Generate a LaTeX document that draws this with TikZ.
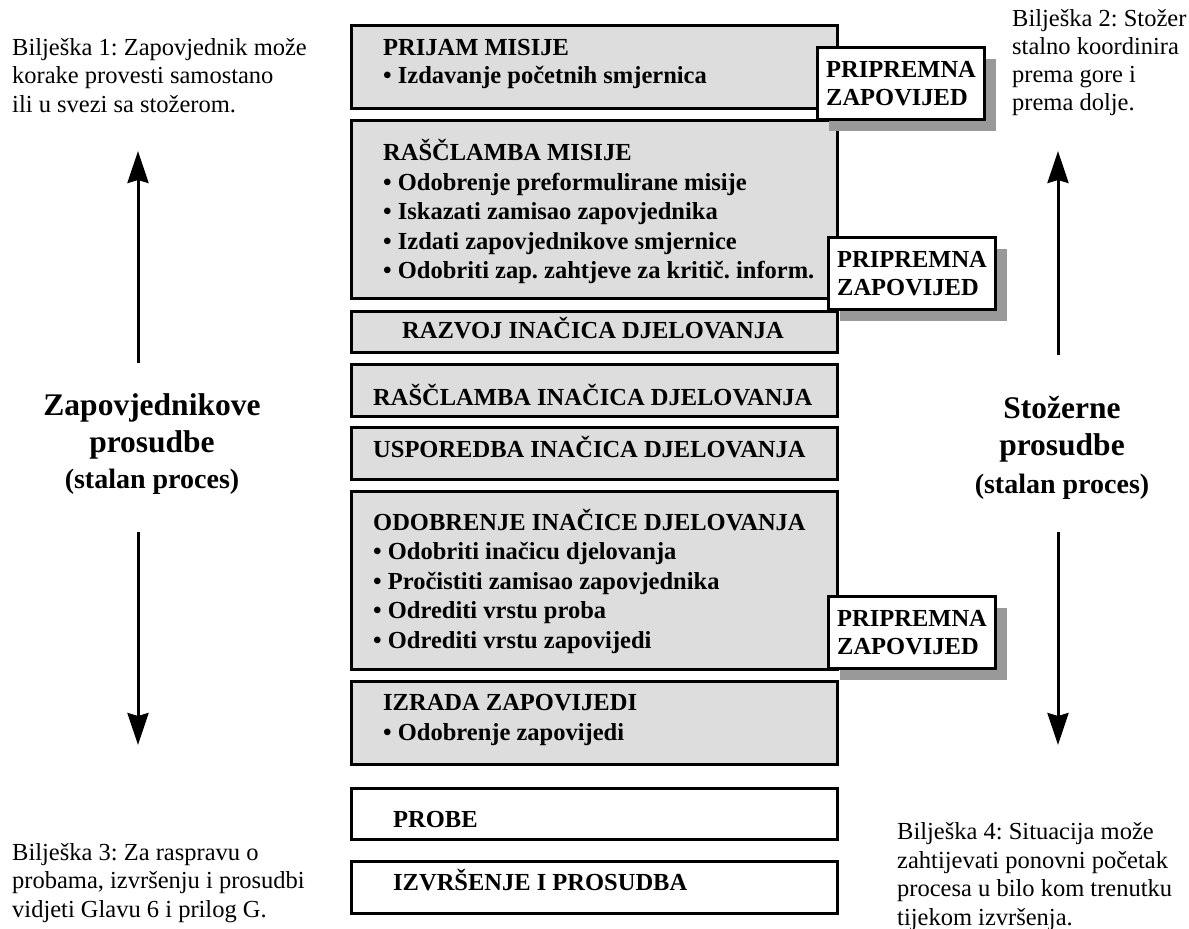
\documentclass[tikz,border=0pt]{standalone}
\usepackage{fontspec}
\setmainfont{Liberation Serif}
\frenchspacing
\usetikzlibrary{arrows.meta,shadows}
\definecolor{boxgray}{HTML}{DDDDDD}
\definecolor{shadowgray}{HTML}{999999}
\tikzset{
  stepbox/.style={draw=black, line width=2.5pt, fill=boxgray, anchor=north west, inner sep=0pt, minimum width=486pt},
  whitebox/.style={stepbox, fill=white},
  boxtxt/.style={anchor=base west, inner sep=0pt, align=left, font=\bfseries\fontsize{24.5}{29.5}\selectfont},
  ctrtxt/.style={boxtxt, anchor=base},
  notetxt/.style={anchor=base west, inner sep=0pt, align=left, font=\fontsize{24.5}{28.5}\selectfont},
  prepbox/.style={draw=black, line width=2.5pt, fill=white, anchor=north west, inner sep=0pt,
    minimum width=167pt, minimum height=72pt,
    drop shadow={shadow xshift=12pt, shadow yshift=-12pt, fill=shadowgray, opacity=1}},
  preptxt/.style={anchor=base west, inner sep=0pt, align=left, font=\bfseries\fontsize{24.5}{28}\selectfont},
  bigtitle/.style={anchor=base, inner sep=0pt, align=center, font=\bfseries\fontsize{31.5}{37}\selectfont},
  bigsub/.style={anchor=base, inner sep=0pt, font=\bfseries\fontsize{28}{32}\selectfont},
  cycarrow/.style={line width=3pt, -{Stealth[length=32pt, width=21pt, inset=3pt]}}
}
\begin{document}
\begin{tikzpicture}[x=1pt, y=-1pt]
\useasboundingbox (0,0) rectangle (1189,929);

% main step boxes
\node[stepbox, minimum height=83pt]  (b1) at (350,24)  {};
\node[stepbox, minimum height=178pt] (b2) at (350,119) {};
\node[stepbox, minimum height=41pt]  (b3) at (350,310) {};
\node[stepbox, minimum height=52pt]  (b4) at (350,363) {};
\node[stepbox, minimum height=52pt]  (b5) at (350,426) {};
\node[stepbox, minimum height=178pt] (b6) at (350,490) {};
\node[stepbox, minimum height=83pt]  (b7) at (350,680) {};
\node[whitebox, minimum height=51pt] (b8) at (350,787) {};
\node[whitebox, minimum height=52pt] (b9) at (350,860) {};

% (anchors are on the baseline of the last line)
\node[boxtxt, font=\bfseries\fontsize{24.5}{28.5}\selectfont] (t1) at (383,83.5) {PRIJAM MISIJE\\• Izdavanje početnih smjernica};
\node[boxtxt] (t2) at (383,278.5) {RAŠČLAMBA MISIJE\\• Odobrenje preformulirane misije\\• Iskazati zamisao zapovjednika\\• Izdati zapovjednikove smjernice\\• Odobriti zap. zahtjeve za kritič. inform.};
\node[ctrtxt] (t3) at (593,338) {RAZVOJ INAČICA DJELOVANJA};
\node[boxtxt] (t4) at (373,405) {RAŠČLAMBA INAČICA DJELOVANJA};
\node[boxtxt] (t5) at (373,457) {USPOREDBA INAČICA DJELOVANJA};
\node[boxtxt] (t6) at (373,648) {ODOBRENJE INAČICE DJELOVANJA\\• Odobriti inačicu djelovanja\\• Pročistiti zamisao zapovjednika\\• Odrediti vrstu proba\\• Odrediti vrstu zapovijedi};
\node[boxtxt] (t7) at (383,740) {IZRADA ZAPOVIJEDI\\• Odobrenje zapovijedi};
\node[boxtxt] (t8) at (393,827) {PROBE};
\node[boxtxt] (t9) at (393,890) {IZVRŠENJE I PROSUDBA};

% warning order boxes
\node[prepbox] (pa) at (816,46) {};
\node[preptxt] (pat) at (826,105) {PRIPREMNA\\ZAPOVIJED};
\node[prepbox] (pb) at (827,236) {};
\node[preptxt] (pbt) at (837,295) {PRIPREMNA\\ZAPOVIJED};
\node[prepbox] (pc) at (827,595) {};
\node[preptxt] (pct) at (837,654) {PRIPREMNA\\ZAPOVIJED};

% side labels
\node[bigtitle] (lt) at (152,452) {Zapovjednikove\\prosudbe};
\node[bigsub] (ls) at (152,488) {(stalan proces)};
\node[bigtitle] (rt) at (1062,455) {Stožerne\\prosudbe};
\node[bigsub] (rs) at (1062,493) {(stalan proces)};

% arrows
\coordinate (la1) at (138,363);
\coordinate (la2) at (138,151);
\coordinate (la3) at (138,532);
\coordinate (la4) at (138,745);
\coordinate (ra1) at (1058,355);
\coordinate (ra2) at (1058,151);
\coordinate (ra3) at (1058,532);
\coordinate (ra4) at (1058,745);
\draw[cycarrow] (la1) -- (la2);
\draw[cycarrow] (la3) -- (la4);
\draw[cycarrow] (ra1) -- (ra2);
\draw[cycarrow] (ra3) -- (ra4);

% notes
\node[notetxt] (n1) at (12,112) {Bilješka 1: Zapovjednik može\\korake provesti samostano\\ili u svezi sa stožerom.};
\node[notetxt, font=\fontsize{24.5}{27.7}\selectfont] (n2) at (1012,110) {Bilješka 2: Stožer\\stalno koordinira\\prema gore i\\prema dolje.};
\node[notetxt] (n3) at (12,917) {Bilješka 3: Za raspravu o\\probama, izvršenju i prosudbi\\vidjeti Glavu 6 i prilog G.};
\node[notetxt] (n4) at (897,925) {Bilješka 4: Situacija može\\zahtijevati ponovni početak\\procesa u bilo kom trenutku\\tijekom izvršenja.};
\end{tikzpicture}
\end{document}
